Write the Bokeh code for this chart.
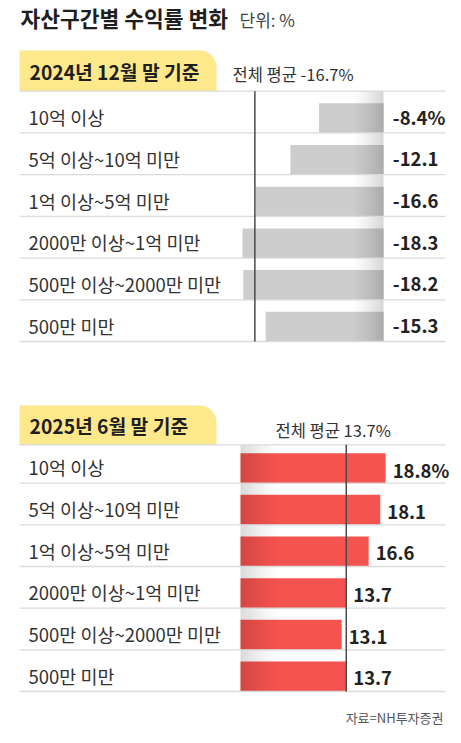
import math
from bokeh.plotting import figure
from bokeh.models import Range1d
from bokeh.layouts import column
from bokeh.core.properties import value
from bokeh.embed import file_html
from bokeh.resources import INLINE

# ---------------- data ----------------
categories = ["10억 이상", "5억 이상~10억 미만", "1억 이상~5억 미만",
              "2000만 이상~1억 미만", "500만 이상~2000만 미만", "500만 미만"]
values_2024 = [-8.4, -12.1, -16.6, -18.3, -18.2, -15.3]
values_2025 = [18.8, 18.1, 16.6, 13.7, 13.1, 13.7]
avg_2024 = -16.7
avg_2025 = 13.7
title_text = "자산구간별 수익률 변화"
unit_text = "단위: %"
header_2024 = "2024년 12월 말 기준"
header_2025 = "2025년 6월 말 기준"
avg_label_2024 = "전체 평균 -16.7%"
avg_label_2025 = "전체 평균 13.7%"
source_text = "자료=NH투자증권"

# ---------------- style ----------------
KR = value("Noto Sans CJK KR")
W = 461
S = 7.72  # px per percentage point
YELLOW = "#fee88c"
GRAY_BAR = "#cdcdcd"
RED_BAR = "#f5534f"
SEP = "#dadada"


def fmt(v, i):
    return f"{v:.1f}" + ("%" if i == 0 else "")


def make_panel(height, page_top, zero_px, row_top_px, row_h):
    fx = lambda px: (px - zero_px) / S
    fy = lambda py: (py - row_top_px) / row_h
    p = figure(width=W, height=height,
               x_range=Range1d(fx(0), fx(W)),
               y_range=Range1d(fy(page_top + height), fy(page_top)),
               output_backend="svg", toolbar_location=None, min_border=0,
               x_axis_location=None, y_axis_location=None)
    p.xgrid.grid_line_color = None
    p.ygrid.grid_line_color = None
    p.outline_line_color = None
    p.background_fill_color = "white"
    p.border_fill_color = "white"
    return p, fx, fy


def draw_tab(p, fx, fy, left, right, top, bottom, r):
    xs = [fx(left), fx(left)]
    ys = [fy(bottom), fy(top)]
    for k in range(19):
        t = math.pi / 2 * k / 18
        xs.append(fx(right - r + r * math.sin(t)))
        ys.append(fy(top + r - r * math.cos(t)))
    xs.append(fx(right))
    ys.append(fy(bottom))
    p.patch(xs, ys, fill_color=YELLOW, line_color=None)


def gradient(p, fx, x_from, x_to, max_alpha, rising, n_rows, y_top=0.0):
    n = int(abs(x_to - x_from))
    lefts, rights, alphas = [], [], []
    for k in range(n):
        t = (k + 0.5) / n
        a = max_alpha * (t ** 1.4 if rising else (1 - t) ** 1.4)
        lefts.append(fx(x_from + k))
        rights.append(fx(x_from + k + 1))
        alphas.append(a)
    p.quad(left=lefts, right=rights, top=[y_top] * n, bottom=[n_rows] * n,
           fill_color="black", fill_alpha=alphas, line_color=None)


n = len(categories)
rows = list(range(n))

# ---------------- panel 1 (title + 2024) ----------------
p1, fx1, fy1 = make_panel(365, 0, 383.3, 90.7, 41.72)

p1.text(x=[fx1(20)], y=[fy1(16.5)], text=[title_text], text_font=KR,
        text_font_size="21.5px", text_font_style="bold", text_color="#1e1e1e",
        text_baseline="middle", text_align="left")
p1.text(x=[fx1(239)], y=[fy1(18.5)], text=[unit_text], text_font=KR,
        text_font_size="17px", text_color="#444444",
        text_baseline="middle", text_align="left")

draw_tab(p1, fx1, fy1, 19, 216, 50, 90.7, 17)
p1.text(x=[fx1(29)], y=[fy1(71.5)], text=[header_2024], text_font=KR,
        text_font_size="19.3px", text_font_style="bold", text_color="#1e1e1e",
        text_baseline="middle", text_align="left")
p1.text(x=[fx1(232)], y=[fy1(73.5)], text=[avg_label_2024], text_font=KR,
        text_font_size="16.5px", text_color="#333333",
        text_baseline="middle", text_align="left")

p1.quad(left=values_2024, right=[0] * n, top=[i + 0.288 for i in rows],
        bottom=[i + 1.0 for i in rows], fill_color=GRAY_BAR, line_color=None)
gradient(p1, fx1, 350, 383.3, 0.17, True, n)
p1.segment(x0=[fx1(19)] * (n + 1), x1=[fx1(445)] * (n + 1),
           y0=list(range(n + 1)), y1=list(range(n + 1)),
           line_color=SEP, line_width=1.3)
p1.segment(x0=[avg_2024], x1=[avg_2024], y0=[0], y1=[n],
           line_color="#4a4a4a", line_width=1.5)
p1.text(x=[fx1(28)] * n, y=[i + 0.62 for i in rows], text=categories,
        text_font=KR, text_font_size="18.5px", text_color="#333333",
        text_baseline="middle", text_align="left")
p1.text(x=[0] * n, y=[i + 0.63 for i in rows],
        text=[fmt(v, i) for i, v in enumerate(values_2024)],
        x_offset=9, text_font=KR, text_font_size="18.5px",
        text_font_style="bold", text_color="#222222",
        text_baseline="middle", text_align="left")

# ---------------- panel 2 (2025) ----------------
p2, fx2, fy2 = make_panel(377, 365, 240.0, 441.0, 41.67)

draw_tab(p2, fx2, fy2, 19, 216, 405, 444.3, 17)
p2.text(x=[fx2(29)], y=[fy2(425)], text=[header_2025], text_font=KR,
        text_font_size="19.3px", text_font_style="bold", text_color="#1e1e1e",
        text_baseline="middle", text_align="left")
p2.text(x=[fx2(275)], y=[fy2(429)], text=[avg_label_2025], text_font=KR,
        text_font_size="16.5px", text_color="#333333",
        text_baseline="middle", text_align="left")

top_line = fy2(444.3)
p2.quad(left=[0] * n, right=values_2025, top=[i + 0.28 for i in rows],
        bottom=[i + 1.0 for i in rows], fill_color=RED_BAR, line_color=None)
gradient(p2, fx2, 240, 282, 0.15, False, n, y_top=top_line)
p2.segment(x0=[fx2(19)] * (n + 1), x1=[fx2(445)] * (n + 1),
           y0=[top_line] + list(range(1, n + 1)), y1=[top_line] + list(range(1, n + 1)),
           line_color=SEP, line_width=1.3)
p2.segment(x0=[avg_2025], x1=[avg_2025], y0=[top_line], y1=[n],
           line_color="#4a4a4a", line_width=1.5)
p2.text(x=[fx2(28)] * n, y=[i + 0.62 for i in rows], text=categories,
        text_font=KR, text_font_size="18.5px", text_color="#333333",
        text_baseline="middle", text_align="left")
p2.text(x=values_2025, y=[i + 0.68 for i in rows],
        text=[fmt(v, i) for i, v in enumerate(values_2025)],
        x_offset=7, text_font=KR, text_font_size="18.5px",
        text_font_style="bold", text_color="#222222",
        text_baseline="middle", text_align="left")
p2.text(x=[fx2(443)], y=[fy2(717)], text=[source_text], text_font=KR,
        text_font_size="13px", text_color="#555555",
        text_baseline="middle", text_align="right")

layout = column(p1, p2, spacing=0)
open("out.html", "w").write(file_html(layout, INLINE))
